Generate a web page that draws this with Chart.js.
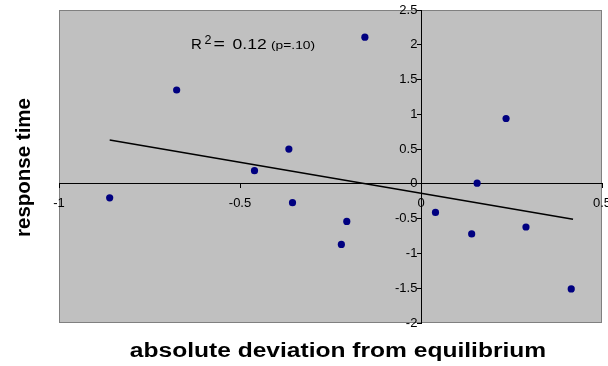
<!DOCTYPE html>
<html>
<head>
<meta charset="utf-8">
<script src="https://cdn.jsdelivr.net/npm/chart.js@4.4.0/dist/chart.umd.min.js"></script>
<style>
  html, body { margin: 0; padding: 0; background: #fff; }
</style>
</head>
<body>
<canvas id="scatter" width="608" height="366"></canvas>
<script>
// deviation vs. response time, one point per subject
const deviation = [-0.86, -0.675, -0.46, -0.365, -0.355, -0.155, -0.205, -0.22, 0.04, 0.155, 0.14, 0.235, 0.29, 0.415];
const responseTime = [-0.20, 1.35, 0.19, 0.50, -0.27, 2.11, -0.54, -0.87, -0.41, 0.01, -0.72, 0.94, -0.62, -1.51];

// linear fit, end points
const fitX = [-0.86, 0.42];
const fitY = [0.63, -0.51];
const fitR2 = '0.12';
const fitP = '.10';

const xTitle = 'absolute deviation from equilibrium';
const yTitle = 'response time';

const FONT = '"Liberation Sans", Arial, sans-serif';

const points = deviation.map((x, i) => ({ x, y: responseTime[i] }));
const fitLine = fitX.map((x, i) => ({ x, y: fitY[i] }));

// plain tick numbers: 2, 1.5, -1 ...
const tickText = v => String(Math.round(v * 10) / 10);
// y labels sit right against the tick marks otherwise
const yTickText = v => tickText(v) + ' ';

// grey plot area, axis titles and the R² note
const decor = {
  id: 'decor',
  beforeDraw(chart) {
    const { ctx, chartArea: a } = chart;
    ctx.save();
    ctx.fillStyle = '#c0c0c0';
    ctx.fillRect(a.left, a.top, a.right - a.left, a.bottom - a.top);
    ctx.strokeStyle = '#808080';
    ctx.lineWidth = 1;
    ctx.strokeRect(a.left + 0.5, a.top + 0.5, a.right - a.left - 1, a.bottom - a.top - 1);
    ctx.restore();
  },
  afterDraw(chart) {
    const { ctx, chartArea: a } = chart;
    ctx.save();
    ctx.fillStyle = '#000';
    ctx.textBaseline = 'alphabetic';

    // x title
    ctx.save();
    ctx.translate(338, a.bottom + 34);
    ctx.scale(1.26, 1);
    ctx.font = 'bold 19.5px ' + FONT;
    ctx.textAlign = 'center';
    ctx.fillText(xTitle, 0, 0);
    ctx.restore();

    // y title
    ctx.save();
    ctx.translate(29.5, (a.top + a.bottom) / 2 + 1);
    ctx.rotate(-Math.PI / 2);
    ctx.font = 'bold 20.5px ' + FONT;
    ctx.textAlign = 'center';
    ctx.fillText(yTitle, 0, 0);
    ctx.restore();

    // R² note
    const bx = 191, by = a.top + 38.5;
    ctx.textAlign = 'left';
    ctx.font = '15px ' + FONT;
    ctx.fillText('R', bx, by);
    ctx.font = '12.5px ' + FONT;
    ctx.fillText('2', bx + 13.5, by - 5);
    ctx.save();
    ctx.translate(bx + 22.5, by);
    ctx.scale(1.3, 1);
    ctx.font = '15px ' + FONT;
    ctx.fillText('=', 0, 0);
    ctx.restore();
    ctx.save();
    ctx.translate(bx + 41.5, by);
    ctx.scale(1.17, 1);
    ctx.font = '15px ' + FONT;
    ctx.fillText(fitR2, 0, 0);
    ctx.restore();
    ctx.save();
    ctx.translate(bx + 80, by);
    ctx.scale(1.2, 1);
    ctx.font = '11.5px ' + FONT;
    ctx.fillText('(p=' + fitP + ')', 0, 0);
    ctx.restore();

    ctx.restore();
  }
};

// axes sit on the zero lines; keep their label overhang from shrinking the plot
const noOverhang = scale => {
  scale.paddingLeft = 0;
  scale.paddingRight = 0;
  scale.paddingTop = 0;
  scale.paddingBottom = 0;
};

new Chart(document.getElementById('scatter'), {
  type: 'scatter',
  data: {
    datasets: [
      {
        data: fitLine,
        showLine: true,
        borderColor: '#000',
        borderWidth: 1.5,
        pointRadius: 0,
        order: 2
      },
      {
        data: points,
        backgroundColor: '#000080',
        borderColor: '#000080',
        borderWidth: 0,
        pointRadius: 3.6,
        order: 1
      }
    ]
  },
  options: {
    responsive: false,
    animation: false,
    layout: { padding: { left: 59, right: 6, top: 10, bottom: 43 } },
    plugins: {
      legend: { display: false },
      tooltip: { enabled: false }
    },
    scales: {
      x: {
        type: 'linear',
        position: { y: 0 },
        min: -1,
        max: 0.5,
        afterFit: noOverhang,
        ticks: { stepSize: 0.5, color: '#000', padding: 8, maxRotation: 0, callback: tickText, font: { family: FONT, size: 13 } },
        grid: { drawOnChartArea: false, drawTicks: true, tickLength: 4, color: '#000' },
        border: { display: true, color: '#000', width: 1 }
      },
      y: {
        type: 'linear',
        position: { x: 0 },
        min: -2,
        max: 2.5,
        afterFit: noOverhang,
        ticks: { stepSize: 0.5, color: '#000', padding: 5, callback: yTickText, font: { family: FONT, size: 13 } },
        grid: { drawOnChartArea: false, drawTicks: true, tickLength: 4, color: '#000' },
        border: { display: true, color: '#000', width: 1 }
      }
    }
  },
  plugins: [decor]
});
</script>
</body>
</html>
